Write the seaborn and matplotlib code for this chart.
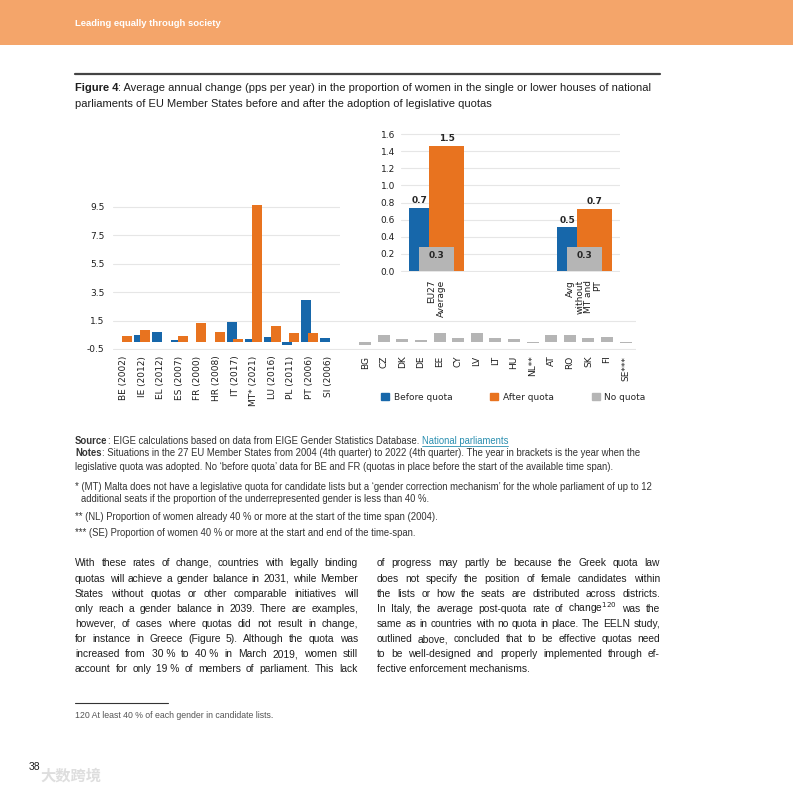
import numpy as np
import pandas as pd
import seaborn as sns
import matplotlib
matplotlib.use("Agg")
import matplotlib.pyplot as plt
from matplotlib.patches import Patch, Rectangle
from matplotlib.lines import Line2D

# ---- data ----
quota_countries = ["BE (2002)", "IE (2012)", "EL (2012)", "ES (2007)", "FR (2000)", "HR (2008)",
                   "IT (2017)", "MT* (2021)", "LU (2016)", "PL (2011)", "PT (2006)", "SI (2006)"]
before_quota = [np.nan, 0.45, 0.7, 0.15, np.nan, 0.0, 1.4, 0.2, 0.35, -0.2, 2.95, 0.3]
after_quota = [0.4, 0.8, 0.0, 0.4, 1.35, 0.7, 0.2, 9.6, 1.1, 0.6, 0.6, 0.0]

no_quota_countries = ["BG", "CZ", "DK", "DE", "EE", "CY", "LV", "LT", "HU", "NL**",
                      "AT", "RO", "SK", "FI", "SE***"]
no_quota = [-0.2, 0.5, 0.2, 0.1, 0.65, 0.25, 0.65, 0.25, 0.2, -0.1, 0.45, 0.45, 0.25, 0.35, -0.05]

avg_groups = ["EU27\nAverage", "Avg\nwithout\nMT and\nPT"]
avg_before = [0.74, 0.51]
avg_after = [1.46, 0.73]
avg_none = [0.28, 0.28]

main_ticks = [-0.5, 1.5, 3.5, 5.5, 7.5, 9.5]
inset_ticks = [0.0, 0.2, 0.4, 0.6, 0.8, 1.0, 1.2, 1.4, 1.6]

BLUE = "#1767aa"
ORANGE = "#e8731f"
GREY = "#b5b5b5"
HEADER = "#f4a56a"

sns.set_style("white")
plt.rcParams["font.family"] = ["DejaVu Sans"]
plt.rcParams["axes.unicode_minus"] = False

W = H = 793
fig = plt.figure(figsize=(7.93, 7.93), dpi=100)
renderer = fig.canvas.get_renderer()


def fx(px):
    return px / W


def fy(py):
    return 1 - py / H


TXT = dict(family=["Liberation Sans Narrow", "Liberation Sans", "DejaVu Sans"], color="#1e1e1e")


def width_of(s, size, **kw):
    opts = dict(TXT)
    opts.update(kw)
    t = fig.text(0, 0, s, fontsize=size, **opts)
    w = t.get_window_extent(renderer).width
    t.remove()
    return w


def put(xpx, ypx, s, size, **kw):
    opts = dict(TXT)
    opts.update(kw)
    t = fig.text(fx(xpx), fy(ypx), s, fontsize=size, va="baseline", **opts)
    return t.get_window_extent(renderer).width


def justify(x0, x1, ypx, line, size, **kw):
    words = line.split(" ")
    widths = [width_of(w, size, **kw) for w in words]
    gap = (x1 - x0 - sum(widths)) / (len(words) - 1)
    x = x0
    for w, wd in zip(words, widths):
        put(x, ypx, w, size, **kw)
        x += wd + gap


def shifted_bar(ax, data, x, y, order, color, width, shift):
    n0 = len(ax.patches)
    sns.barplot(data=data, x=x, y=y, order=order, color=color, width=width,
                errorbar=None, saturation=1, ax=ax)
    new = ax.patches[n0:]
    for p in new:
        p.set_x(p.get_x() + shift)
        p.set_linewidth(0)
    return new


# ---- page header ----
fig.add_artist(Rectangle((0, fy(45)), 1, 45 / H, transform=fig.transFigure,
                         facecolor=HEADER, edgecolor="none", zorder=0))
hs = 10 * 146 / width_of("Leading equally through society", 10, weight="bold")
put(75, 26, "Leading equally through society", hs, weight="bold", color="white")

fig.add_artist(Line2D([fx(75), fx(660)], [fy(74), fy(74)], transform=fig.transFigure,
                      color="#444444", lw=1.6))

# figure title
t1b = "Figure 4"
t1 = ": Average annual change (pps per year) in the proportion of women in the single or lower houses of national"
t2 = "parliaments of EU Member States before and after the adoption of legislative quotas"
ts = 10 * 573 / (width_of(t1b, 10, weight="bold") + width_of(t1, 10))
wb = put(75, 91, t1b, ts, weight="bold")
put(75 + wb, 91, t1, ts)
put(75, 107, t2, ts)

# ---- main chart ----
order = quota_countries + [" "] + no_quota_countries
df_q = pd.DataFrame({"country": quota_countries, "before": before_quota, "after": after_quota})
df_n = pd.DataFrame({"country": no_quota_countries, "value": no_quota})

ax = fig.add_axes([fx(113), fy(349.7), (636 - 113) / W, (349.7 - 196.7) / H])
shifted_bar(ax, df_q.dropna(subset=["before"]), "country", "before", order, BLUE, 0.54, -0.18)
shifted_bar(ax, df_q.dropna(subset=["after"]), "country", "after", order, ORANGE, 0.54, 0.18)
shifted_bar(ax, df_n, "country", "value", order, GREY, 0.65, 0.0)
ax.set_xlim(-0.56, 27.56)
ax.set_ylim(-0.55, 10.2)
ax.set_yticks(main_ticks)
ax.set_yticklabels([f"{v:.1f}" for v in main_ticks])
ax.yaxis.grid(True, color="#e6e6e6", lw=0.8)
ax.set_axisbelow(True)
ax.set_xlabel("")
ax.set_ylabel("")
sns.despine(ax=ax, left=True, bottom=True)
ax.tick_params(axis="both", length=0, labelsize=6.5, colors="#1e1e1e")
ax.tick_params(axis="x", labelrotation=90, pad=4.3)
ax.tick_params(axis="y", pad=6)

# white panel behind the averages inset
fig.add_artist(Rectangle((fx(340), fy(318)), 300 / W, (318 - 120) / H, transform=fig.transFigure,
                         facecolor="white", edgecolor="none", zorder=1))

# ---- averages inset ----
df_a = pd.DataFrame({"group": avg_groups, "before": avg_before, "after": avg_after, "none": avg_none})
ax2 = fig.add_axes([fx(401), fy(272.3), (620 - 401) / W, (272.3 - 129.8) / H], zorder=2)
ax2.patch.set_alpha(0)
pb = shifted_bar(ax2, df_a, "group", "before", avg_groups, BLUE, 0.237, -0.064)
pa = shifted_bar(ax2, df_a, "group", "after", avg_groups, ORANGE, 0.237, 0.070)
pn = shifted_bar(ax2, df_a, "group", "none", avg_groups, GREY, 0.237, 0.0)
ax2.set_xlim(-0.240, 1.2415)
ax2.set_ylim(-0.015, 1.65)
ax2.set_yticks(inset_ticks)
ax2.set_yticklabels([f"{v:.1f}" for v in inset_ticks])
ax2.set_xticks(range(len(avg_groups)))
ax2.set_xticklabels(avg_groups, rotation=90, multialignment="right", linespacing=1.0)
ax2.yaxis.grid(True, color="#e6e6e6", lw=0.8)
ax2.set_axisbelow(True)
ax2.set_xlabel("")
ax2.set_ylabel("")
sns.despine(ax=ax2, left=True, bottom=True)
ax2.tick_params(axis="both", length=0, labelsize=6.5, colors="#1e1e1e")
ax2.tick_params(axis="x", pad=5.5)
ax2.tick_params(axis="y", pad=4.3)

for b, a in zip(pb, pa):
    xc = (b.get_x() + a.get_x()) / 2
    ax2.annotate(f"{b.get_height():.1f}", (xc, b.get_height()), xytext=(0, 2),
                 textcoords="offset points", ha="center", va="bottom",
                 fontsize=6.5, weight="bold")
for a in pa:
    ax2.annotate(f"{a.get_height():.1f}", (a.get_x() + a.get_width() / 2, a.get_height()),
                 xytext=(0, 2), textcoords="offset points", ha="center", va="bottom",
                 fontsize=6.5, weight="bold")
for n in pn:
    ax2.annotate(f"{n.get_height():.1f}", (n.get_x() + n.get_width() / 2, n.get_height()),
                 xytext=(0, -3), textcoords="offset points", ha="center", va="top",
                 fontsize=6.5, weight="bold")

fig.legend(handles=[Patch(color=BLUE, label="Before quota"),
                    Patch(color=ORANGE, label="After quota"),
                    Patch(color=GREY, label="No quota")],
           loc="center left", bbox_to_anchor=(fx(381), fy(397)), ncol=3, frameon=False,
           fontsize=6.5, handlelength=0.9, handleheight=0.9, handletextpad=0.5,
           columnspacing=4.2, borderaxespad=0, borderpad=0)

# ---- source and notes ----
n1b = "Notes"
n1 = ": Situations in the 27 EU Member States from 2004 (4th quarter) to 2022 (4th quarter). The year in brackets is the year when the"
ns = 10 * 570 / (width_of(n1b, 10, weight="bold") + width_of(n1, 10))
NC = "#333333"
wb = put(75, 443.5, "Source", ns, weight="bold", color=NC)
w2 = put(75 + wb, 443.5, ": EIGE calculations based on data from EIGE Gender Statistics Database. ", ns, color=NC)
w3 = put(75 + wb + w2, 443.5, "National parliaments", ns, color="#2a8fb0")
fig.add_artist(Line2D([fx(75 + wb + w2), fx(75 + wb + w2 + w3)], [fy(445.5), fy(445.5)],
                      transform=fig.transFigure, color="#2a8fb0", lw=0.6))
wb = put(75, 456.5, n1b, ns, weight="bold", color=NC)
put(75 + wb, 456.5, n1, ns, color=NC)
put(75, 469.5, "legislative quota was adopted. No \u2018before quota\u2019 data for BE and FR (quotas in place before the start of the available time span).", ns, color=NC)
put(75, 490.5, "* (MT) Malta does not have a legislative quota for candidate lists but a \u2018gender correction mechanism\u2019 for the whole parliament of up to 12", ns, color=NC)
put(81, 502.5, "additional seats if the proportion of the underrepresented gender is less than 40\u00a0%.", ns, color=NC)
put(75, 519.5, "** (NL) Proportion of women already 40\u00a0% or more at the start of the time span (2004).", ns, color=NC)
put(75, 536.5, "*** (SE) Proportion of women 40\u00a0% or more at the start and end of the time-span.", ns, color=NC)

# ---- body text ----
left_col = [
    "With these rates of change, countries with legally binding",
    "quotas will achieve a gender balance in 2031, while Member",
    "States without quotas or other comparable initiatives will",
    "only reach a gender balance in 2039. There are examples,",
    "however, of cases where quotas did not result in change,",
    "for instance in Greece (Figure 5). Although the quota was",
    "increased from 30\u00a0% to 40\u00a0% in March 2019, women still",
    "account for only 19\u00a0% of members of parliament. This lack",
]
right_col = [
    "of progress may partly be because the Greek quota law",
    "does not specify the position of female candidates within",
    "the lists or how the seats are distributed across districts.",
    "In Italy, the average post-quota rate of change$^{120}$ was the",
    "same as in countries with no quota in place. The EELN study,",
    "outlined above, concluded that to be effective quotas need",
    "to be well-designed and properly implemented through ef-",
]
right_last = "fective enforcement mechanisms."

bs = 10 * 282 * 0.985 / max(width_of(s, 10) for s in left_col + right_col)
for i, s in enumerate(left_col):
    justify(75, 358, 566.5 + 15.1 * i, s, bs)
for i, s in enumerate(right_col):
    justify(377, 660, 566.5 + 15.1 * i, s, bs)
put(377, 566.5 + 15.1 * 7, right_last, bs)

fig.add_artist(Line2D([fx(75), fx(168)], [fy(703), fy(703)], transform=fig.transFigure,
                      color="#333333", lw=0.8))
fs = 10 * 200 / width_of("120 At least 40 % of each gender in candidate lists.", 10)
put(75, 718, "120 At least 40\u00a0% of each gender in candidate lists.", fs, color="#555555")

put(29, 770, "38", 7.5)
fig.text(fx(40), fy(776), "大数跨境", fontsize=11, family=["Noto Sans CJK SC", "DejaVu Sans"],
         color="#dedede", va="center", weight="bold")

fig.savefig("out.png", dpi=100)
